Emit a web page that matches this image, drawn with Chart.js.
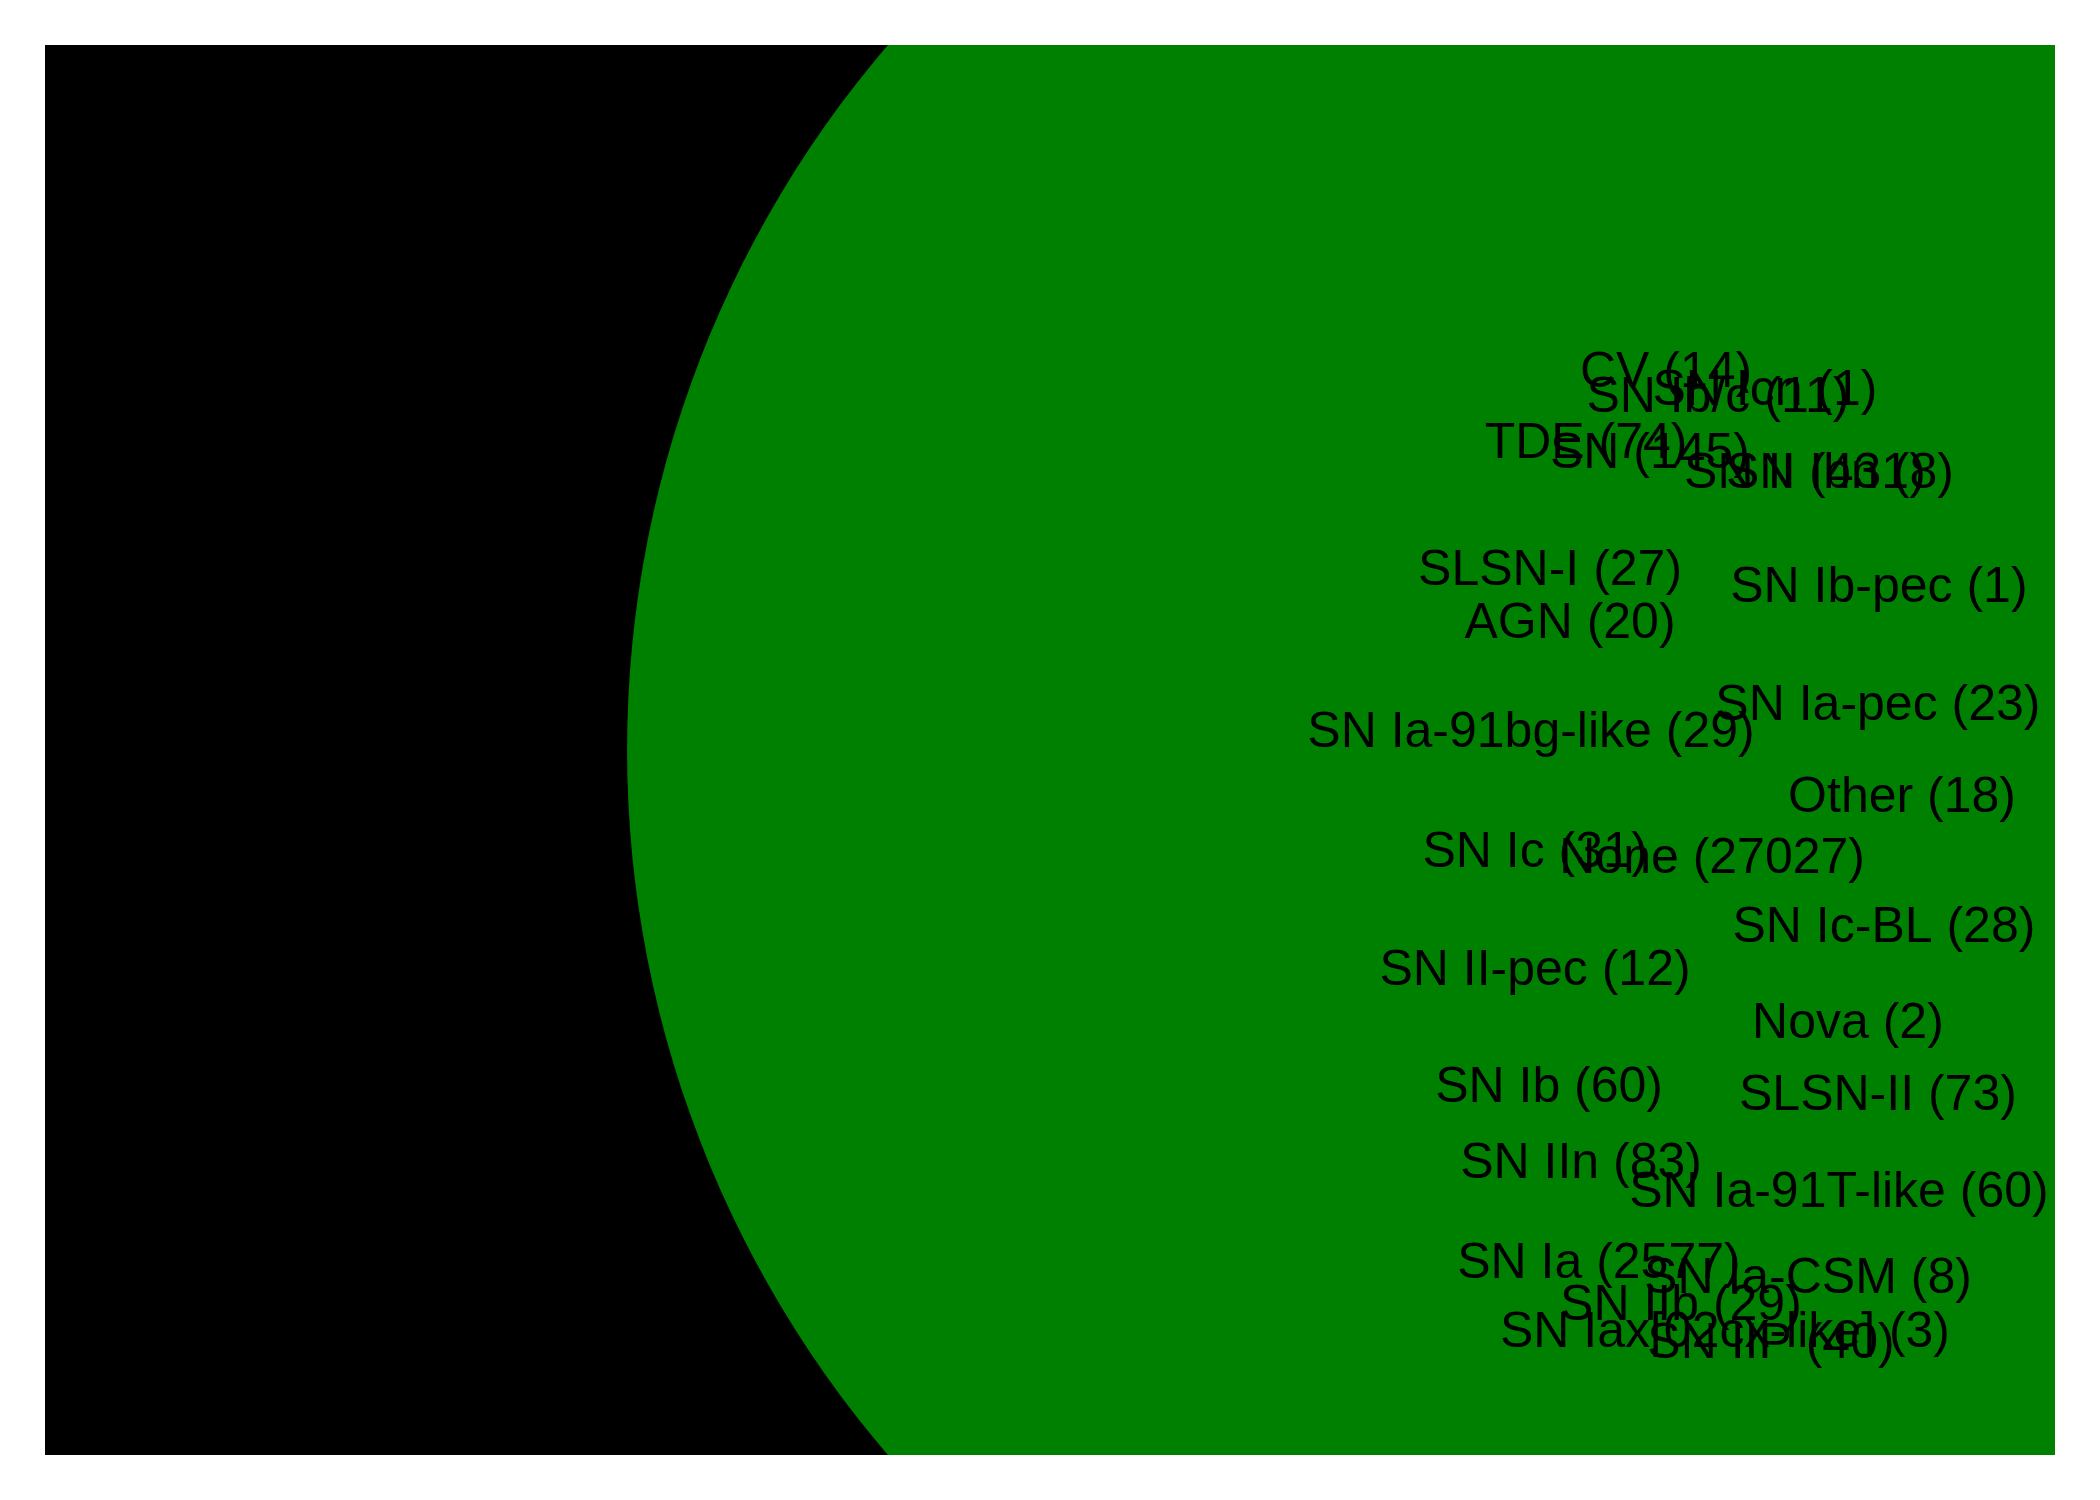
<!DOCTYPE html>
<html>
<head>
<meta charset="utf-8">
<script src="https://cdn.jsdelivr.net/npm/chart.js@4.4.1/dist/chart.umd.min.js"></script>
<style>
  html, body { margin: 0; padding: 0; background: #ffffff; }
  #wrap { width: 2100px; height: 1500px; }
</style>
</head>
<body>
<div id="wrap"><canvas id="c" width="2100" height="1500"></canvas></div>
<script>
// ---- data (positions in axes-fraction units, y upward) ----
const classes = [
  "CV", "SN Ib/c", "SN Icn", "TDE", "SN", "SN II", "SN Ibn", "SLSN-I", "SN Ib-pec", "AGN",
  "SN Ia-pec", "SN Ia-91bg-like", "Other", "SN Ic", "None", "SN Ic-BL", "SN II-pec", "Nova",
  "SN Ib", "SLSN-II", "SN IIn", "SN Ia-91T-like", "SN Ia", "SN Ia-CSM", "SN IIb",
  "SN Iax[02cx-like]", "SN IIP"
];
const counts = [
  14, 11, 1, 74, 145, 431, 8, 27, 1, 20,
  23, 29, 18, 31, 27027, 28, 12, 2,
  60, 73, 83, 60, 2577, 8, 29,
  3, 40
];
const labelX = [
  0.8065, 0.8323, 0.8557, 0.7667, 0.7985, 0.8756, 0.8930, 0.7488, 0.9124, 0.7587,
  0.9119, 0.7393, 0.9239, 0.7413, 0.8294, 0.9149, 0.7413, 0.8970,
  0.7483, 0.9119, 0.7642, 0.8925, 0.7731, 0.8771, 0.8139,
  0.8358, 0.8587
];
const labelY = [
  0.7574, 0.7397, 0.7447, 0.7071, 0.7000, 0.6858, 0.6858, 0.6170, 0.6050, 0.5794,
  0.5213, 0.5021, 0.4560, 0.4170, 0.4128, 0.3638, 0.3333, 0.2957,
  0.2504, 0.2447, 0.1965, 0.1759, 0.1255, 0.1149, 0.0957,
  0.0766, 0.0688
];
// bubble centres: the dominant "None" group is centred apart from its label
const bubbleX = labelX.map((v, i) => classes[i] === "None" ? 0.8284 : v);
const bubbleY = labelY.map((v, i) => classes[i] === "None" ? 0.5 : v);

// ---- styling ----
const MAX_RADIUS = 1083;
const maxCount = Math.max(...counts);
const bubbleData = classes.map((c, i) => ({
  x: bubbleX[i], y: bubbleY[i],
  r: MAX_RADIUS * Math.sqrt(counts[i] / maxCount)
}));

const bgPlugin = {
  id: 'bg',
  beforeDraw(chart) {
    const { ctx, chartArea: a } = chart;
    ctx.save();
    ctx.fillStyle = '#ffffff';
    ctx.fillRect(0, 0, chart.width, chart.height);
    ctx.fillStyle = '#000000';
    ctx.fillRect(a.left, a.top, a.right - a.left, a.bottom - a.top);
    ctx.restore();
  }
};

const labelPlugin = {
  id: 'labels',
  afterDatasetsDraw(chart) {
    const { ctx, scales } = chart;
    ctx.save();
    ctx.font = '50px "Liberation Sans", Arial, sans-serif';
    ctx.fillStyle = '#000000';
    ctx.textAlign = 'center';
    ctx.textBaseline = 'alphabetic';
    classes.forEach((c, i) => {
      const px = scales.x.getPixelForValue(labelX[i]);
      const py = scales.y.getPixelForValue(labelY[i]);
      ctx.fillText(c + ' (' + counts[i] + ')', px, py);
    });
    ctx.restore();
  }
};

new Chart(document.getElementById('c'), {
  type: 'bubble',
  data: {
    datasets: [{
      data: bubbleData,
      backgroundColor: '#008000',
      borderColor: '#008000',
      borderWidth: 0,
      clip: 0
    }]
  },
  options: {
    responsive: false,
    devicePixelRatio: 1,
    animation: false,
    events: [],
    layout: { autoPadding: false, padding: { left: 45, right: 45, top: 45, bottom: 45 } },
    plugins: { legend: { display: false }, tooltip: { enabled: false } },
    scales: {
      x: { type: 'linear', min: 0, max: 1, display: false },
      y: { type: 'linear', min: 0, max: 1, display: false }
    }
  },
  plugins: [bgPlugin, labelPlugin]
});
</script>
</body>
</html>
